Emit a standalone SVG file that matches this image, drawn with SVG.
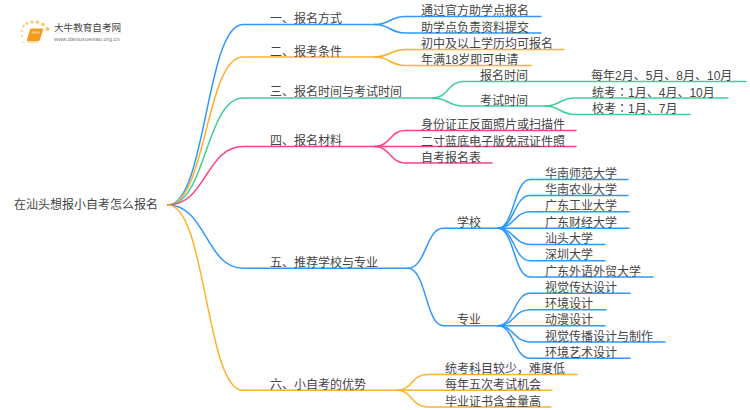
<svg xmlns="http://www.w3.org/2000/svg" width="750" height="410" viewBox="0 0 750 410">
<style>
text{font-family:"Liberation Sans","Noto Sans CJK SC",sans-serif;font-size:12px;fill:#444}
.k{font-family:"Noto Sans CJK KR",sans-serif}
#connectors path{fill:none;stroke-width:1.5;stroke-linecap:round}
.b{stroke:#2f98fb}.o{stroke:#fdb22e}.g{stroke:#3fd098}.p{stroke:#fb3f8c}
</style>
<rect width="750" height="410" fill="#fff"/>
<g id="connectors">
<g class="b">
<path d="M168 205C206 205 206 24.500 243 24.500H375"/>
<path d="M375 24.500C390 24.500 390 16.500 405 16.500H541"/>
<path d="M375 24.500C390 24.500 390 33 405 33H541"/>
</g>
<g class="o">
<path d="M168 205C206 205 206 57 243 57H375"/>
<path d="M375 57C390 57 390 49.500 405 49.500H564"/>
<path d="M375 57C390 57 390 65.500 405 65.500H531"/>
</g>
<g class="g">
<path d="M168 205C206 205 206 98 243 98H433"/>
<path d="M433 98C448 98 448 81.500 463 81.500H746"/>
<path d="M433 98C448 98 448 106 463 106H545"/>
<path d="M545 106C560 106 560 98 575 98H728"/>
<path d="M545 106C560 106 560 114.500 575 114.500H690"/>
</g>
<g class="p">
<path d="M168 205C206 205 206 146.500 243 146.500H375"/>
<path d="M375 146.500C390 146.500 390 130.500 405 130.500H576"/>
<path d="M375 146.500H576"/>
<path d="M375 146.500C390 146.500 390 163 405 163H492"/>
</g>
<g class="b">
<path d="M168 205C206 205 206 268.300 243 268.300H408"/>
<path d="M408 268.300C426 268.300 426 228.300 443 228.300H498"/>
<path d="M408 268.300C426 268.300 426 325.700 443 325.700H498"/>
<path d="M498 228.300C514 228.300 514 179.500 530 179.500H628"/>
<path d="M498 228.300C514 228.300 514 195.500 530 195.500H628"/>
<path d="M498 228.300C514 228.300 514 211.700 530 211.700H629"/>
<path d="M498 228.300H629"/>
<path d="M498 228.300C514 228.300 514 244.500 530 244.500H605"/>
<path d="M498 228.300C514 228.300 514 260.700 530 260.700H605"/>
<path d="M498 228.300C514 228.300 514 277 530 277H653"/>
<path d="M498 325.700C514 325.700 514 293.300 530 293.300H630"/>
<path d="M498 325.700C514 325.700 514 309.700 530 309.700H606"/>
<path d="M498 325.700H605"/>
<path d="M498 325.700C514 325.700 514 342 530 342H665"/>
<path d="M498 325.700C514 325.700 514 358.300 530 358.300H630"/>
</g>
<g class="o">
<path d="M168 205C206 205 206 390.300 243 390.300H397"/>
<path d="M397 390.300C412 390.300 412 374.500 427 374.500H577"/>
<path d="M397 390.300H552"/>
<path d="M397 390.300C412 390.300 412 407 427 407H551"/>
</g>
</g>
<g id="logo">
<g fill="#fdc862"><circle cx="47.500" cy="29" r="2"/><circle cx="43" cy="24.500" r="1.800"/><circle cx="37.500" cy="22" r="1.800"/><circle cx="32" cy="22" r="1.600"/><circle cx="27" cy="23.500" r="1.400"/><circle cx="23.500" cy="26" r="1.200"/><circle cx="22" cy="31" r="1"/><circle cx="22" cy="36" r=".9"/><circle cx="23" cy="42" r=".8"/></g>
<path d="M31 28.500H42.500Q43.500 28.500 43 30L40 39.500Q39.500 41 38 41H28Q26.500 41 27 39.500L30 30Q30.300 28.500 31 28.500Z" fill="#f59a1c"/>
<path d="M32 31.500H40L39.500 33.500H31.500Z" fill="#fcc77c"/>
<path d="M27.500 42H38.500" stroke="#fbc77a" stroke-width="1.200"/>
<path d="M54 33H122" stroke="#ddd" stroke-width=".6"/>
<text x="54" y="30.500" style="font-size:9.600px;fill:#444;font-family:'Noto Sans CJK SC',sans-serif">大牛教育自考网</text>
<text x="54" y="40.500" style="font-size:5.800px;fill:#777;font-family:'Liberation Sans',sans-serif">www.daniuxuexiao.org.cn</text>
</g>
<g id="root"><text x="14" y="209">在汕头想报小自考怎么报名</text></g>
<g id="n1"><text x="270" y="23">一、报名方式</text></g>
<g id="n1a"><text x="421" y="15">通过官方助学点报名</text></g>
<g id="n1b"><text x="421" y="31.500">助学点负责资料提交</text></g>
<g id="n2"><text x="270" y="55.500">二、报考条件</text></g>
<g id="n2a"><text x="421" y="48">初中及以上学历均可报名</text></g>
<g id="n2b"><text x="421" y="64">年满18岁即可申请</text></g>
<g id="n3"><text x="270" y="96">三、报名时间与考试时间</text></g>
<g id="n3a"><text x="480" y="80">报名时间</text></g>
<g id="n3a1"><text x="591" y="80">每年2月、5月、8月、10月</text></g>
<g id="n3b"><text x="480" y="104.500">考试时间</text></g>
<g id="n3b1"><text x="592" y="96.500">统考<tspan class="k">：</tspan>1月、4月、10月</text></g>
<g id="n3b2"><text x="592" y="113">校考<tspan class="k">：</tspan>1月、7月</text></g>
<g id="n4"><text x="270" y="145">四、报名材料</text></g>
<g id="n4a"><text x="421" y="129">身份证正反面照片或扫描件</text></g>
<g id="n4b"><text x="421" y="145.500">二寸蓝底电子版免冠证件照</text></g>
<g id="n4c"><text x="421" y="161.500">自考报名表</text></g>
<g id="n5"><text x="270" y="266.500">五、推荐学校与专业</text></g>
<g id="n5a"><text x="457" y="226.500">学校</text></g>
<g id="s1"><text x="545" y="178">华南师范大学</text></g>
<g id="s2"><text x="545" y="194">华南农业大学</text></g>
<g id="s3"><text x="545" y="210">广东工业大学</text></g>
<g id="s4"><text x="545" y="226.500">广东财经大学</text></g>
<g id="s5"><text x="545" y="243">汕头大学</text></g>
<g id="s6"><text x="545" y="259">深圳大学</text></g>
<g id="s7"><text x="545" y="275.500">广东外语外贸大学</text></g>
<g id="n5b"><text x="457" y="324">专业</text></g>
<g id="m1"><text x="545" y="291.500">视觉传达设计</text></g>
<g id="m2"><text x="545" y="308">环境设计</text></g>
<g id="m3"><text x="545" y="324">动漫设计</text></g>
<g id="m4"><text x="545" y="340.500">视觉传播设计与制作</text></g>
<g id="m5"><text x="545" y="356.500">环境艺术设计</text></g>
<g id="n6"><text x="270" y="388.500">六、小自考的优势</text></g>
<g id="n6a"><text x="445" y="373">统考科目较少<tspan class="k">，</tspan>难度低</text></g>
<g id="n6b"><text x="445" y="389">每年五次考试机会</text></g>
<g id="n6c"><text x="445" y="405.500">毕业证书含金量高</text></g>
</svg>
